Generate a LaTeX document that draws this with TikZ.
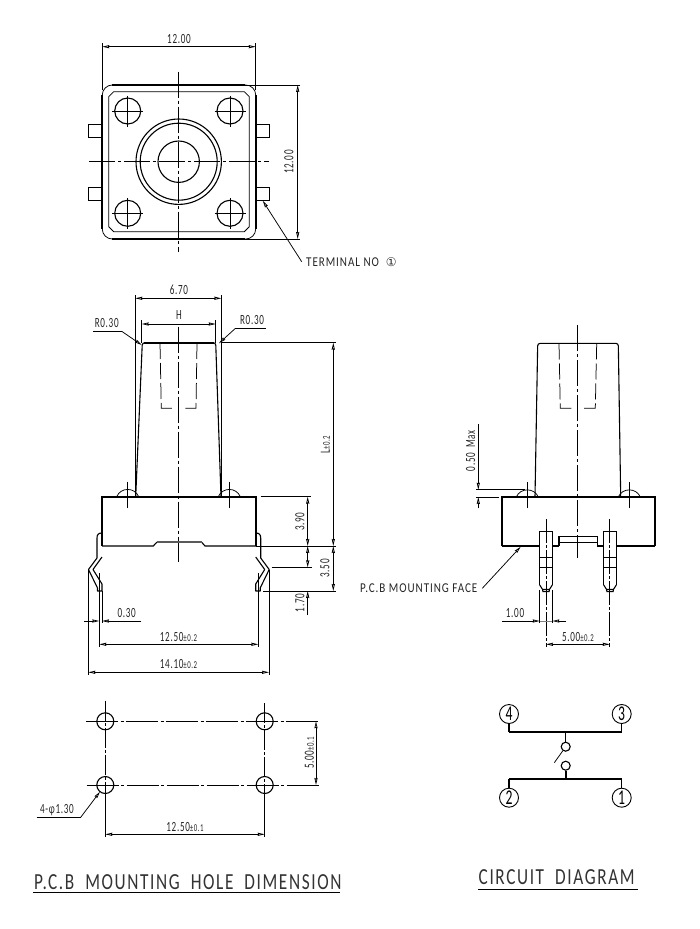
\documentclass[tikz,border=0pt]{standalone}
\usepackage{fontspec}
\setmainfont{Carlito}[LetterSpace=5,FakeStretch=0.65]
\newfontfamily\capsfont{Carlito}[LetterSpace=7,FakeStretch=0.82]
\newfontfamily\titlefont{Carlito}[LetterSpace=7,FakeStretch=0.75]
\newfontfamily\symfont{DejaVu Sans}
\usetikzlibrary{arrows.meta}
\newcommand{\tol}[1]{{\fontsize{10.5}{11}\selectfont #1}}
\tikzset{
  x=1pt,y=-1pt,
  thinl/.style={line width=0.75pt,black},
  thickl/.style={line width=1.7pt,black},
  midl/.style={line width=1.1pt,black},
  centre/.style={line width=0.75pt,dash pattern=on 26pt off 3pt on 3pt off 3pt},
  hidden/.style={line width=0.75pt,dash pattern=on 16pt off 4pt},
  ar/.tip={Stealth[open,length=7pt,width=3.2pt,inset=0.6pt]},
  dim/.style={thinl,ar-ar},
  dimend/.style={thinl,-ar},
  lab/.style={inner sep=0pt,font=\fontsize{14}{15}\selectfont,text=black!85},
  caplab/.style={inner sep=0pt,font=\capsfont\fontsize{13.5}{15}\selectfont,text=black!85},
  rlab/.style={lab,rotate=90},
  titlelab/.style={inner sep=0pt,font=\titlefont\fontsize{23}{24}\selectfont,text=black!80},
  numpin/.style={circle,draw,line width=0.9pt,minimum size=19pt,inner sep=0pt,font=\fontsize{21}{22}\selectfont},
  swc/.style={circle,draw,line width=1.1pt,minimum size=9pt,inner sep=0pt},
}
\begin{document}
\begin{tikzpicture}
\useasboundingbox (0,0) rectangle (699,929);
\fill[white] (0,0) rectangle (699,929);

% ------- top view
\draw[thinl,rounded corners=10pt] (102.3,85) rectangle (255.7,239);
\draw[thickl] (102.3,95)--(102.3,229) (255.7,95)--(255.7,229) (112,85)--(245,85) (112,239)--(245,239);
\draw[thinl] (113.7,91.7)--(244.3,91.7)--(249.3,96.7)--(249.3,226.7)--(244.3,231.7)--(113.7,231.7)--(108.7,226.7)--(108.7,96.7)--cycle;
\foreach \hx in {127.7,230}\foreach \hy in {111,213.3}{
  \draw[midl] (\hx,\hy) circle[radius=13];
  \draw[thinl] (\hx-15.5,\hy)--(\hx+15.5,\hy) (\hx,\hy-15.5)--(\hx,\hy+15.5);
}
\draw[midl] (178.7,161.7) circle[radius=42.7] circle[radius=38.5] circle[radius=20.7];
\draw[centre] (178.7,71.7)--(178.7,251.7);
\draw[centre] (89,161.7)--(269,161.7);
\foreach \ty in {124,187.3}{
  \draw[thinl,line width=0.9pt] (101,\ty) rectangle (88.5,\ty+13);
  \draw[thinl,line width=0.9pt] (256.7,\ty) rectangle (269,\ty+13);
}
\draw[thinl] (102.3,43)--(102.3,90) (255.7,43)--(255.7,90) (245,85)--(300,85) (245,239)--(300,239);
\draw[dim] (102.3,46.7)--(255.7,46.7);
\node[lab] (t12h) at (179,39) {12.00};
\draw[dim] (297.7,85)--(297.7,239);
\node[rlab] (t12v) at (289,162) {12.00};
\node[caplab,anchor=west] (tterm) at (306,262.5) {TERMINAL\ NO\ \ {\symfont\fontsize{12}{12}\selectfont ①}};
\coordinate (termtip) at (262.7,200.7);
\draw[dimend] (301.7,261.7)--(termtip);

% ------- front view
\draw[centre] (178.3,326.7)--(178.3,561.7);
\draw[midl,line join=round,rounded corners=2.5pt] (135.7,496.7)--(142.3,342.7)--(215.7,342.7)--(221,496.7);
\draw[thickl] (144,342.7)--(214,342.7);
\draw[hidden] (160,343)--(161.3,408.3)--(174,408.3);
\draw[hidden] (197,343)--(196,408.3)--(183,408.3);
\foreach \bx in {127.7,229.3}{
  \draw[thinl] (\bx-11,496.7) .. controls (\bx-7,487) and (\bx+7,487) .. (\bx+11,496.7);
  \draw[thinl] (\bx,481.7)--(\bx,508.3);
}
\draw[thickl] (102,546)--(102,496.7)--(256,496.7)--(256,546);
\draw[midl] (102,546)--(153.3,546)--(156.7,542.3)--(201.7,542.3)--(205,546)--(256,546);
\draw[thickl,black!65] (157,542.3)--(201.5,542.3);
\foreach \sh/\sc in {0/1,357.7/-1}{
\begin{scope}[xshift=\sh pt,xscale=\sc]
  \draw[midl,line join=round] (102,533) .. controls (98.5,533) and (97,534.5) .. (97,538)--(97,558)--(88.5,569.5)--(97.5,588)--(97.5,591)--(102,591)--(102,584)--(93,569.5)--(102,557);
\end{scope}}
% dims front
\draw[thinl] (135.3,295)--(135.3,496.7) (221.3,295)--(221.3,496.7);
\draw[dim] (135.3,298.3)--(221.3,298.3);
\node[lab] (t670) at (179,290) {6.70};
\draw[thinl] (141.7,320)--(141.7,343) (215.7,320)--(215.7,343);
\draw[dim] (141.7,324)--(215.7,324);
\node[lab] (tH) at (179,315) {H};
\node[lab] (tR1) at (106.7,323.5) {R0.30};
\draw[thinl] (93.3,331.3)--(121.7,331.3);
\draw[dimend] (121.7,331.3)--(141.7,345);
\node[lab] (tR2) at (252,320.5) {R0.30};
\draw[thinl] (235,328.7)--(266,328.7);
\draw[dimend] (235,328.7)--(219,343.3);
\draw[thinl] (221,342.7)--(335.7,342.7);
\draw[thinl] (256,546)--(335.7,546) (260.7,496.7)--(310.7,496.7) (271.7,567.3)--(312,567.3) (263,591)--(335.7,591);
\draw[dim] (333.3,342.7)--(333.3,546);
\draw[dim] (333.3,546)--(333.3,591);
\node[rlab] (tL) at (325.5,445) {L\tol{±0.2}};
\node[rlab] (t350) at (325,568.3) {3.50};
\draw[dim] (307.7,496.7)--(307.7,546);
\draw[dim] (307.7,546)--(307.7,567.3);
\draw[dimend] (307.7,615)--(307.7,591);
\node[rlab] (t390) at (300,521.7) {3.90};
\node[rlab] (t170) at (300,603) {1.70};
\draw[thinl] (88.3,570)--(88.3,675) (269,570)--(269,675);
\draw[thinl] (99.3,573)--(99.3,646.7) (258.3,573)--(258.3,646.7);
\draw[thinl] (102,591)--(102,623);
\draw[dim] (88.3,672.3)--(269,672.3);
\node[lab] (t1410) at (178.5,664.5) {14.10\tol{±0.2}};
\draw[dim] (99.3,644.3)--(258.3,644.3);
\node[lab] (t1250) at (178.5,636.7) {12.50\tol{±0.2}};
\draw[dimend] (84,621)--(99.3,621);
\draw[dimend] (141,621)--(102,621);
\node[lab] (t030) at (126.7,613.3) {0.30};

% ------- side view
\draw[centre] (577.7,325)--(577.7,558.3);
\draw[midl,rounded corners=2.5pt] (535,497)--(537.7,343.3)--(618.3,343.3)--(620.7,497);
\draw[hidden] (559,343.5)--(560.3,408.3)--(573,408.3);
\draw[hidden] (596.7,343.5)--(595.3,408.3)--(582,408.3);
\foreach \bx in {527.3,629.3}{
  \draw[thinl] (\bx-11,497) .. controls (\bx-7,487.5) and (\bx+7,487.5) .. (\bx+11,497);
  \draw[thinl] (\bx,482.3)--(\bx,508.3);
}
\draw[thickl] (501.7,546)--(501.7,497)--(655.3,497)--(655.3,546);
\draw[midl] (501.7,546)--(539.7,546) (552.3,546)--(559,546) (597.3,546)--(603.7,546) (616.3,546)--(655.3,546);
\draw[thickl,line width=1.4pt] (559,546)--(559,536.7)--(597.3,536.7)--(597.3,546) (559,542.7)--(597.3,542.7);
\foreach \px in {539.7,603.7}{
  \draw[thickl,line width=1.5pt] (\px,585)--(\px,531.7)--(\px+12.6,531.7)--(\px+12.6,585);
  \draw[thickl,line width=1.4pt] (\px,557.3)--(\px+12.6,557.3) (\px,567.7)--(\px+12.6,567.7);
  \draw[midl] (\px,585)--(\px+2.8,589.3)--(\px+9.8,589.3)--(\px+12.6,585) (\px+2.8,589.3)--(\px+3.2,591.5)--(\px+9.4,591.5)--(\px+9.8,589.3);
}
\draw[thinl,dash pattern=on 24pt off 2pt on 3pt off 2pt] (546,519.3)--(546,646.7);
\draw[thinl,dash pattern=on 24pt off 2pt on 3pt off 2pt] (609.7,519.3)--(609.7,646.7);
\draw[thinl] (539.7,590)--(539.7,623) (552.3,590)--(552.3,623);
\draw[dimend] (502.3,621)--(539.7,621);
\draw[dimend] (565.7,621)--(552.3,621);
\draw[thinl,black!50] (539.7,621)--(552.3,621);
\node[lab] (t100) at (515,613.3) {1.00};
\draw[dim] (546,644.3)--(609.7,644.3);
\node[lab] (t500) at (578,636.7) {5.00\tol{±0.2}};
\draw[thinl] (476,489.7)--(525,489.7) (476,497)--(499.3,497);
\draw[dimend] (478.3,424)--(478.3,489.7);
\draw[dimend] (478.3,508.3)--(478.3,497);
\node[rlab] (t050) at (470.7,450.7) {0.50\ \ Max};
\node[caplab,anchor=east] (tpcb) at (477.5,587.7) {P.C.B\ MOUNTING\ FACE};
\coordinate (pcbtip) at (520.7,546.7);
\draw[dimend] (482.3,588.3)--(pcbtip);

% ------- PCB holes
\foreach \hx in {105.3,264.7}\foreach \hy in {721.3,785}{
  \draw[midl] (\hx,\hy) circle[radius=8.5];
}
\draw[centre,dash pattern=on 32pt off 2.5pt on 3pt off 2.5pt] (86,721.3)--(320,721.3);
\draw[centre,dash pattern=on 32pt off 2.5pt on 3pt off 2.5pt] (86.7,785)--(320,785);
\draw[centre,dash pattern=on 20pt off 2pt on 3pt off 2pt] (105.3,700.7)--(105.3,792);
\draw[thinl] (105.3,792)--(105.3,837);
\draw[centre,dash pattern=on 20pt off 2pt on 3pt off 2pt] (264.7,703.3)--(264.7,792);
\draw[thinl] (264.7,792)--(264.7,837);
\draw[dim] (316,721.3)--(316,785);
\node[rlab] (t500b) at (309.3,752.7) {5.00\tol{±0.1}};
\draw[dim] (105.3,834.3)--(264.7,834.3);
\node[lab] (t1250b) at (185,826.7) {12.50\tol{±0.1}};
\node[lab] (t4phi) at (57,810) {4-φ1.30};
\draw[thinl] (36.7,817.3)--(80.7,817.3);
\draw[dimend] (80.7,817.3)--(100,791.7);
\node[titlelab,anchor=west] (ttitle1) at (34,882) {P.C.B\ \ MOUNTING\ \ HOLE\ \ DIMENSION};
\draw[thinl,line width=1pt] (33,892.7)--(340,892.7);

% ------- circuit
\node[numpin] (p4) at (509,714) {4};
\node[numpin] (p3) at (621.7,714) {3};
\node[numpin] (p2) at (509,797.7) {2};
\node[numpin] (p1) at (621.7,797.7) {1};
\coordinate (bu) at (565.7,731.7);
\coordinate (bl) at (565.7,778.7);
\node[swc] (su) at (565.7,746.7) {};
\node[swc] (sl) at (565.7,765.7) {};
\coordinate (armend) at (554.3,762.7);
\draw[midl] (p4)--(p4|-bu);
\draw[midl] (p3)--(p3|-bu);
\draw[midl] (p2)--(p2|-bl);
\draw[midl] (p1)--(p1|-bl);
\draw[thickl] (p4|-bu)--(p3|-bu);
\draw[thickl] (p2|-bl)--(p1|-bl);
\draw[thinl] (bu)--(su);
\draw[thickl] (sl)--(bl);
\draw[thinl] (armend)--(su);
\node[titlelab,anchor=west] (ttitle2) at (478.5,877.5) {CIRCUIT\ \ DIAGRAM};
\draw[thinl,line width=1pt] (478,889)--(638,889);
\end{tikzpicture}
\end{document}
